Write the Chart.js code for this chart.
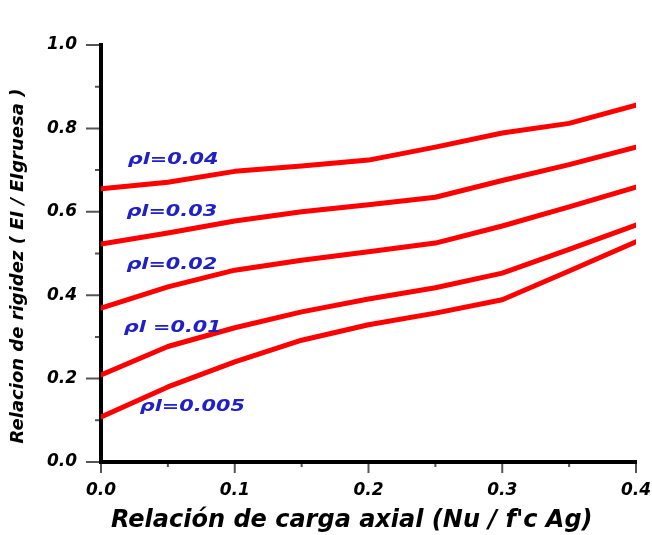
<!DOCTYPE html>
<html>
<head>
<meta charset="utf-8">
<script src="https://cdn.jsdelivr.net/npm/chart.js@4/dist/chart.umd.min.js"></script>
<style>
    html, body { margin: 0; padding: 0; background: #ffffff; }
    #wrap { width: 652px; height: 535px; }
</style>
</head>
<body>
<div id="wrap"><canvas id="rigidezChart" width="652" height="535"></canvas></div>
<script>
// Axial load ratio (x values shared by all curves)
const cargaAxial = [0, 0.05, 0.1, 0.15, 0.2, 0.25, 0.3, 0.35, 0.4];

// Stiffness ratio for each steel ratio
const rho004 = [0.655, 0.671, 0.697, 0.710, 0.724, 0.755, 0.789, 0.812, 0.856];
const rho003 = [0.523, 0.549, 0.578, 0.600, 0.617, 0.635, 0.675, 0.713, 0.755];
const rho002 = [0.369, 0.420, 0.460, 0.484, 0.504, 0.525, 0.566, 0.612, 0.659];
const rho001 = [0.209, 0.277, 0.322, 0.360, 0.391, 0.418, 0.453, 0.510, 0.568];
const rho0005 = [0.108, 0.180, 0.240, 0.292, 0.329, 0.357, 0.389, 0.458, 0.528];

// Curve labels and where they sit (in data units)
const labelText = ['ρl=0.04', 'ρl=0.03', 'ρl=0.02', 'ρl =0.01', 'ρl=0.005'];
const labelX = [0.020, 0.019, 0.019, 0.017, 0.029];
const labelY = [0.724, 0.600, 0.472, 0.321, 0.132];

const series = [rho004, rho003, rho002, rho001, rho0005];

// Function to build one red curve
function makeDataset(values, index) {
    return {
        label: labelText[index],
        data: cargaAxial.map((x, i) => ({ x: x, y: values[i] })),
        borderColor: '#ff0000',
        borderWidth: 5,
        borderCapStyle: 'round',
        borderJoinStyle: 'round',
        pointRadius: 0,
        tension: 0,
        fill: false
    };
}

// Plugin: major / minor tick marks outside the axes
const tickMarks = {
    id: 'tickMarks',
    afterDraw(chart) {
        const ctx = chart.ctx;
        const xs = chart.scales.x;
        const ys = chart.scales.y;
        const area = chart.chartArea;
        ctx.save();
        ctx.strokeStyle = '#555555';
        ctx.lineWidth = 2;
        ctx.beginPath();
        ys.ticks.forEach(t => {
            const py = ys.getPixelForValue(t.value);
            const major = Math.round(t.value * 10) % 2 === 0;
            ctx.moveTo(area.left - (major ? 15 : 6), py);
            ctx.lineTo(area.left - 2, py);
        });
        xs.ticks.forEach(t => {
            const px = xs.getPixelForValue(t.value);
            const major = Math.round(t.value * 20) % 2 === 0;
            ctx.moveTo(px, area.bottom + 2);
            ctx.lineTo(px, area.bottom + (major ? 11 : 5));
        });
        ctx.stroke();
        ctx.restore();
    }
};

// Plugin: blue curve labels
const curveLabels = {
    id: 'curveLabels',
    afterDatasetsDraw(chart) {
        const ctx = chart.ctx;
        const xs = chart.scales.x;
        const ys = chart.scales.y;
        ctx.save();
        ctx.fillStyle = '#2020c8';
        ctx.font = 'italic bold 16px "DejaVu Sans"';
        ctx.textAlign = 'left';
        ctx.textBaseline = 'middle';
        labelText.forEach((txt, i) => {
            ctx.save();
            ctx.translate(xs.getPixelForValue(labelX[i]), ys.getPixelForValue(labelY[i]));
            ctx.scale(1.3, 1);
            ctx.fillText(txt, 0, 0);
            ctx.restore();
        });
        ctx.restore();
    }
};

const tickFont = { family: '"DejaVu Sans"', size: 17, style: 'italic', weight: 'bold' };

new Chart(document.getElementById('rigidezChart'), {
    type: 'line',
    data: { datasets: series.map(makeDataset) },
    options: {
        responsive: false,
        animation: false,
        layout: { padding: { left: 6, right: 0, top: 45, bottom: 0 } },
        plugins: {
            legend: { display: false },
            tooltip: { enabled: false }
        },
        scales: {
            x: {
                type: 'linear',
                min: 0,
                max: 0.4,
                grid: { display: false, drawTicks: false },
                border: { display: true, color: '#000000', width: 4 },
                ticks: {
                    stepSize: 0.05,
                    autoSkip: false,
                    maxRotation: 0,
                    padding: 18,
                    color: '#000000',
                    font: tickFont,
                    callback: v => (Math.round(v * 20) % 2 === 0 ? v.toFixed(1) : '')
                },
                title: {
                    display: true,
                    text: "Relación de carga axial (Nu / f'c Ag)    ",
                    color: '#000000',
                    padding: { top: 0, bottom: 0 },
                    font: { family: '"DejaVu Sans"', size: 24, style: 'italic', weight: 'bold' }
                },
                afterFit: scale => {
                    scale.height = 73;
                    scale.paddingRight = 16;
                }
            },
            y: {
                min: 0,
                max: 1.0,
                grid: { display: false, drawTicks: false },
                border: { display: true, color: '#000000', width: 4 },
                ticks: {
                    stepSize: 0.1,
                    autoSkip: false,
                    padding: 24,
                    color: '#000000',
                    font: tickFont,
                    callback: v => (Math.round(v * 10) % 2 === 0 ? v.toFixed(1) : '')
                },
                title: {
                    display: true,
                    text: 'Relacion de rigidez ( EI / EIgruesa )    ',
                    color: '#000000',
                    padding: { top: 2, bottom: 0 },
                    font: { family: '"DejaVu Sans"', size: 18, style: 'italic', weight: 'bold' }
                },
                afterFit: scale => { scale.width = 95; }
            }
        }
    },
    plugins: [tickMarks, curveLabels]
});
</script>
</body>
</html>
